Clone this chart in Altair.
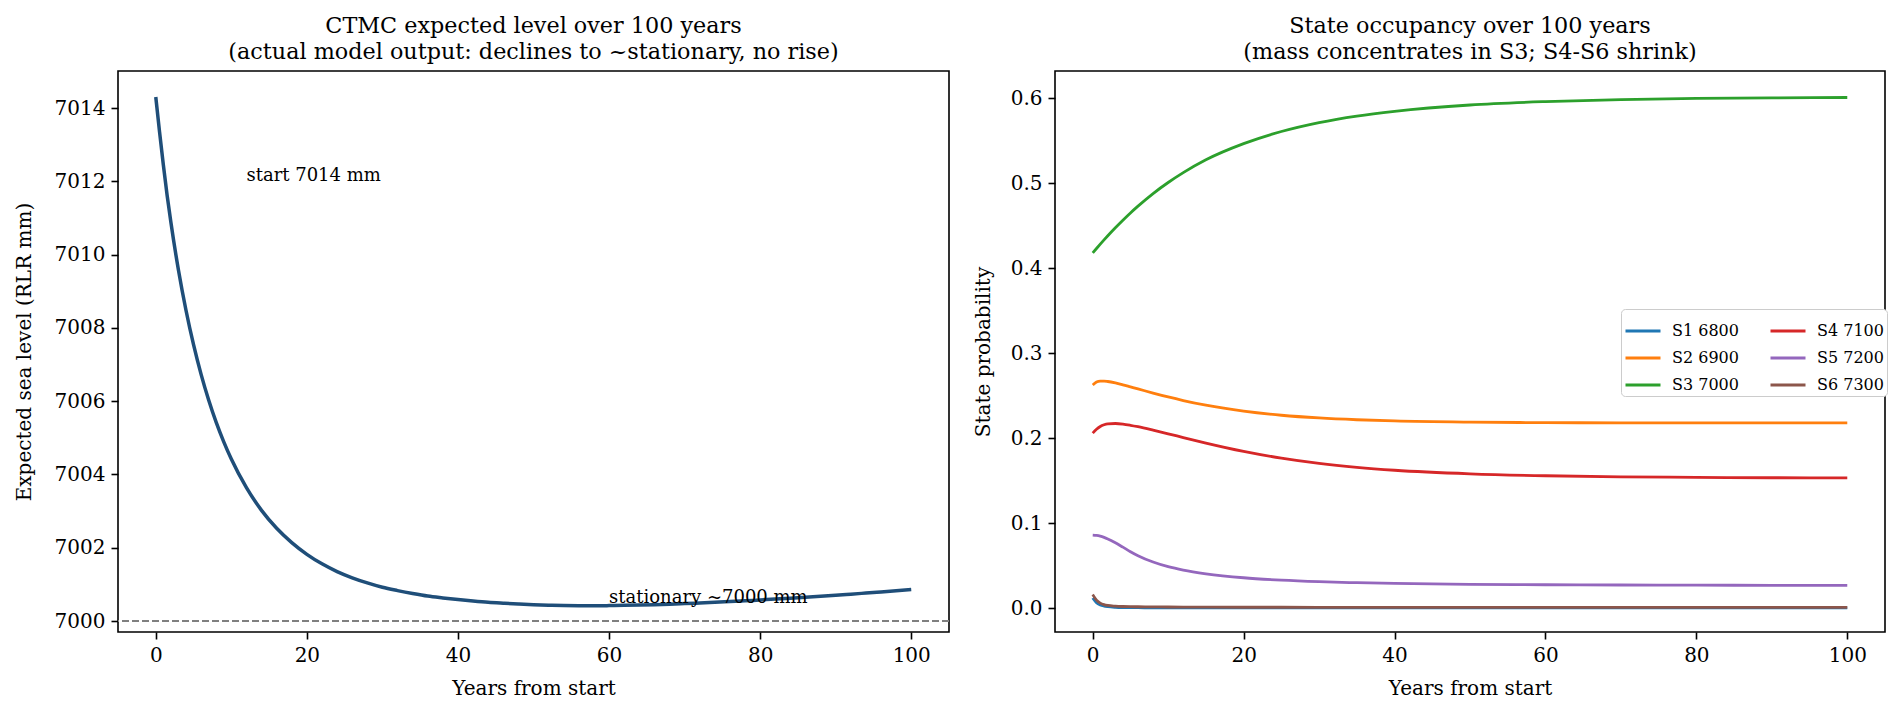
import altair as alt
import pandas as pd

FONT = "DejaVu Serif"

# ---------------- left panel data ----------------
YEARS_E = [0, 0.5, 1, 1.5, 2, 3, 4, 5, 6, 7, 8, 9, 10, 12, 14, 16, 18, 20, 22, 24, 26,
           28, 30, 32, 34, 36, 38, 40, 42, 44, 46, 48, 50, 52, 54, 56, 58, 60, 62, 64,
           66, 68, 70, 72, 74, 76, 78, 80, 82, 84, 86, 88, 90, 92, 94, 96, 98, 100]
LEVEL_E = [7014.30, 7013.35, 7012.45, 7011.62, 7010.88, 7009.58, 7008.48, 7007.54,
           7006.73, 7006.03, 7005.42, 7004.89, 7004.42, 7003.64, 7003.02, 7002.53,
           7002.14, 7001.82, 7001.56, 7001.35, 7001.18, 7001.04, 7000.92, 7000.83,
           7000.75, 7000.68, 7000.63, 7000.585, 7000.545, 7000.510, 7000.485, 7000.463,
           7000.445, 7000.432, 7000.423, 7000.418, 7000.416, 7000.420, 7000.427,
           7000.436, 7000.447, 7000.460, 7000.475, 7000.492, 7000.511, 7000.531,
           7000.552, 7000.574, 7000.598, 7000.623, 7000.649, 7000.676, 7000.704,
           7000.733, 7000.763, 7000.794, 7000.826, 7000.860]
STATIONARY_LEVEL = [7000]
ANN_X = [12, 60]
ANN_Y = [7012, 7000.5]
ANN_TEXT = ["start 7014 mm", "stationary ~7000 mm"]

# ---------------- right panel data ----------------
YEARS_P = [0, 0.5, 1, 1.5, 2, 3, 4, 5, 6, 8, 10, 12, 15, 20, 25, 30, 35, 40, 50,
           60, 70, 80, 90, 100]
S1 = [0.012, 0.0065, 0.0038, 0.0025, 0.0018, 0.0011, 0.0008, 0.0007, 0.0006, 0.0005,
      0.0005, 0.0004, 0.0004, 0.0004, 0.0003, 0.0003, 0.0003, 0.0003, 0.0003, 0.0003,
      0.0003, 0.0003, 0.0003, 0.0003]
S2 = [0.2625, 0.2660, 0.2672, 0.2672, 0.2667, 0.2650, 0.2628, 0.2604, 0.2580, 0.2531,
      0.2485, 0.2443, 0.2388, 0.2318, 0.2270, 0.2238, 0.2217, 0.2203, 0.2189, 0.2183,
      0.2181, 0.2180, 0.2180, 0.2180]
S3 = [0.4180, 0.4232, 0.4283, 0.4333, 0.4382, 0.4476, 0.4565, 0.4650, 0.4730, 0.4878,
      0.5008, 0.5124, 0.5275, 0.5465, 0.5608, 0.5713, 0.5790, 0.5846, 0.5920, 0.5960,
      0.5984, 0.5997, 0.6004, 0.6008]
S4 = [0.2060, 0.2105, 0.2138, 0.2158, 0.2169, 0.2173, 0.2166, 0.2152, 0.2135, 0.2095,
      0.2052, 0.2008, 0.1943, 0.1845, 0.1765, 0.1703, 0.1657, 0.1623, 0.1581, 0.1558,
      0.1546, 0.1539, 0.1535, 0.1533]
S5 = [0.0860, 0.0856, 0.0847, 0.0833, 0.0815, 0.0770, 0.0718, 0.0665, 0.0618, 0.0543,
      0.0488, 0.0448, 0.0405, 0.0358, 0.0330, 0.0312, 0.0300, 0.0291, 0.0281, 0.0276,
      0.0273, 0.0271, 0.0269, 0.0268]
S6 = [0.016, 0.0095, 0.0060, 0.0042, 0.0032, 0.0024, 0.0020, 0.0018, 0.0017, 0.0015,
      0.0014, 0.0013, 0.0012, 0.0011, 0.0011, 0.0010, 0.0010, 0.0010, 0.0009, 0.0009,
      0.0009, 0.0009, 0.0009, 0.0009]
STATE_LABELS = ["S1 6800", "S2 6900", "S3 7000", "S4 7100", "S5 7200", "S6 7300"]
STATE_COLORS = ["#1f77b4", "#ff7f0e", "#2ca02c", "#d62728", "#9467bd", "#8c564b"]
SERIES = [S1, S2, S3, S4, S5, S6]

X_TICKS = [0, 20, 40, 60, 80, 100]
Y_TICKS_E = [7000, 7002, 7004, 7006, 7008, 7010, 7012, 7014]
Y_TICKS_P = [0.0, 0.1, 0.2, 0.3, 0.4, 0.5, 0.6]

# ---------------- tables ----------------
df_e = pd.DataFrame({"t": YEARS_E, "level": LEVEL_E})
df_rule = pd.DataFrame({"level": STATIONARY_LEVEL})
df_ann = pd.DataFrame({"t": ANN_X, "level": ANN_Y, "label": ANN_TEXT})

rows = []
for lab, vals in zip(STATE_LABELS, SERIES):
    for t, v in zip(YEARS_P, vals):
        rows.append({"t": t, "p": v, "state": lab})
df_p = pd.DataFrame(rows)

W, H = 831, 561

x_scale = alt.Scale(domain=[-5, 105], nice=False, zero=False)


def x_enc():
    return alt.X("t:Q", scale=x_scale,
                 axis=alt.Axis(values=X_TICKS, format="d", title="Years from start",
                               titlePadding=13))


# ---------------- left chart ----------------
y_e = alt.Y("level:Q", scale=alt.Scale(domain=[6999.70, 7015.01], nice=False, zero=False),
            axis=alt.Axis(values=Y_TICKS_E, format="d", title="Expected sea level (RLR mm)",
                          titlePadding=20))

left_line = alt.Chart(df_e).mark_line(color="#1f4e79", strokeWidth=3.5,
                                      interpolate="monotone").encode(x=x_enc(), y=y_e)
left_rule = alt.Chart(df_rule).mark_rule(color="#808080", strokeWidth=2,
                                         strokeDash=[7, 3]).encode(y=alt.Y("level:Q"))
left_text = alt.Chart(df_ann).mark_text(align="left", baseline="alphabetic", font=FONT,
                                        fontSize=18, color="black").encode(
    x="t:Q", y="level:Q", text="label:N")

left = alt.layer(left_line, left_rule, left_text).properties(
    width=W, height=H,
    title=alt.TitleParams(
        text=["CTMC expected level over 100 years",
              "(actual model output: declines to ~stationary, no rise)"],
        font=FONT, fontSize=22.3, fontWeight="normal", color="black",
        anchor="middle", lineHeight=26, offset=8))

# ---------------- right chart ----------------
color_enc = alt.Color(
    "state:N",
    scale=alt.Scale(domain=STATE_LABELS, range=STATE_COLORS),
    legend=alt.Legend(orient="none", legendX=1503, legendY=238, columns=2,
                      direction="vertical",
                      symbolType="stroke", symbolSize=1225, symbolStrokeWidth=2.8,
                      labelFont=FONT, labelFontSize=16, labelColor="black",
                      title=None, strokeColor="#cccccc", fillColor="white",
                      padding=3, cornerRadius=4, rowPadding=-10.5, columnPadding=25,
                      labelOffset=10))

y_p = alt.Y("p:Q", scale=alt.Scale(domain=[-0.028, 0.632], nice=False, zero=False),
            axis=alt.Axis(values=Y_TICKS_P, format=".1f", title="State probability",
                          titlePadding=17))

right_layers = []
for lab in STATE_LABELS:
    right_layers.append(
        alt.Chart(df_p).transform_filter(alt.datum.state == lab)
        .mark_line(strokeWidth=2.8, interpolate="monotone")
        .encode(x=x_enc(), y=y_p, color=color_enc))

right = alt.layer(*right_layers).properties(
    width=830, height=H,
    title=alt.TitleParams(
        text=["State occupancy over 100 years",
              "(mass concentrates in S3; S4-S6 shrink)"],
        font=FONT, fontSize=22.3, fontWeight="normal", color="black",
        anchor="middle", lineHeight=26, offset=8))

chart = alt.hconcat(left, right, spacing=106, bounds="flush").configure(
    background="white"
).configure_view(
    stroke="black", strokeWidth=1.6
).configure_axis(
    domain=False, grid=False, tickColor="black", tickSize=7, tickWidth=1.6,
    labelFont=FONT, labelFontSize=20, labelColor="black", labelPadding=6,
    titleFont=FONT, titleFontSize=20, titleFontWeight="normal", titleColor="black"
)

chart.save("out.html", embed_options={"renderer": "svg", "actions": False})
